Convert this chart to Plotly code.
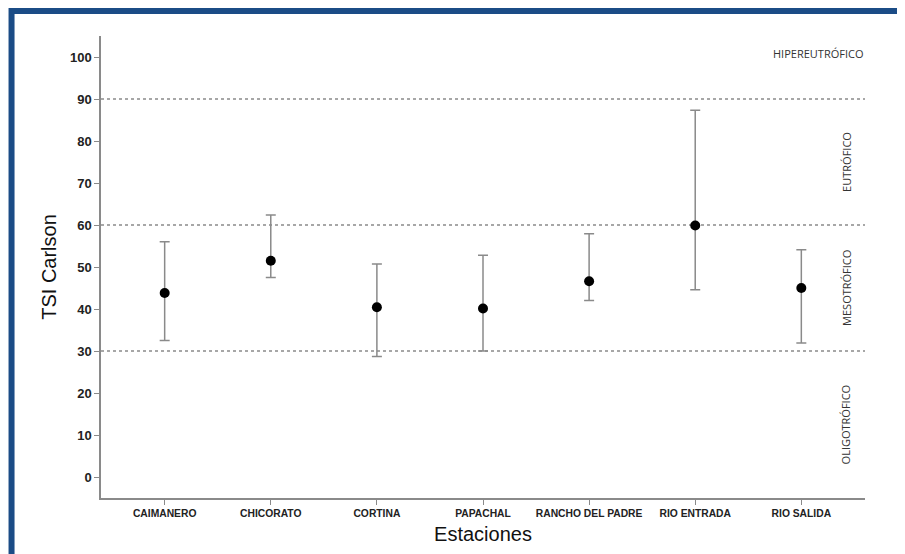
import plotly.graph_objects as go

estaciones = ["CAIMANERO", "CHICORATO", "CORTINA", "PAPACHAL",
              "RANCHO DEL PADRE", "RIO ENTRADA", "RIO SALIDA"]
media = [43.8, 51.5, 40.4, 40.1, 46.6, 59.9, 45.0]
superior = [56.0, 62.4, 50.7, 52.8, 57.9, 87.3, 54.1]
inferior = [32.5, 47.5, 28.7, 30.0, 42.0, 44.6, 31.9]
limites = [30, 60, 90]
zonas = ["OLIGOTRÓFICO", "MESOTRÓFICO", "EUTRÓFICO"]
zonas_y = [12.5, 45, 75]

x_idx = list(range(len(estaciones)))
err_plus = [s - m for s, m in zip(superior, media)]
err_minus = [m - i for m, i in zip(media, inferior)]

fig = go.Figure()
fig.add_trace(go.Scatter(
    x=x_idx, y=media, mode="markers",
    marker=dict(color="black", size=10),
    error_y=dict(type="data", symmetric=False, array=err_plus,
                 arrayminus=err_minus, color="#8a8a8a", thickness=1.5, width=5),
    showlegend=False,
))

shapes = []
for v in limites:
    shapes.append(dict(type="line", xref="paper", yref="y", x0=0, x1=1, y0=v, y1=v,
                       line=dict(color="#8a8a8a", width=1.5, dash="dot"), layer="below"))
# blue frame
shapes.append(dict(type="rect", xref="paper", yref="paper",
                   x0=-0.1171, x1=1.049, y0=-0.14, y1=1.054,
                   line=dict(color="#1b4c86", width=6), fillcolor="rgba(0,0,0,0)"))

annotations = [dict(text="HIPEREUTRÓFICO", xref="paper", yref="y", x=1.0, y=100.8,
                    xanchor="right", yanchor="middle", showarrow=False,
                    font=dict(family="Open Sans", size=11, color="#333"))]
for z, zy in zip(zonas, zonas_y):
    annotations.append(dict(text=z, xref="paper", yref="y", x=0.975, y=zy,
                            textangle=-90, showarrow=False, xanchor="center", yanchor="middle",
                            font=dict(family="Open Sans", size=11, color="#333")))

fig.update_layout(
    width=897, height=546,
    margin=dict(l=93, r=40, t=28, b=51),
    paper_bgcolor="white", plot_bgcolor="white",
    shapes=shapes, annotations=annotations,
    xaxis=dict(
        range=[-0.6, 6.6], tickmode="array", tickvals=x_idx, ticktext=estaciones,
        showline=True, linecolor="#8a8a8a", linewidth=1.5, showgrid=False, zeroline=False,
        ticks="outside", ticklen=5, tickcolor="#8a8a8a",
        tickfont=dict(family="Liberation Sans", size=10.3, color="#222", weight="bold"),
        title=dict(text="Estaciones", standoff=9,
                   font=dict(family="Liberation Sans", size=20, color="#111")),
    ),
    yaxis=dict(
        range=[-5, 105], tickmode="array", tickvals=list(range(0, 101, 10)),
        showline=True, linecolor="#8a8a8a", linewidth=1.5, showgrid=False, zeroline=False,
        ticks="outside", ticklen=5, tickcolor="#8a8a8a",
        tickfont=dict(family="Liberation Sans", size=13, color="#222", weight="bold"),
        title=dict(text="TSI Carlson", standoff=8,
                   font=dict(family="Liberation Sans", size=20, color="#111")),
    ),
)

fig.write_html("out.html")
